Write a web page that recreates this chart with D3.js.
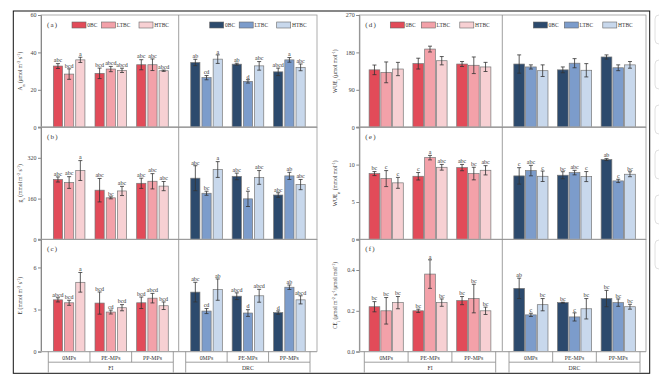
<!DOCTYPE html>
<html>
<head>
<meta charset="utf-8">
<script src="https://cdn.jsdelivr.net/npm/d3@7"></script>
<style>
  body { margin: 0; background: #fff; }
  svg { display: block; font-family: "Liberation Serif", "DejaVu Serif", serif; }
</style>
</head>
<body>
<div id="chart"></div>
<script>
const treatments = ["0MPs", "PE-MPs", "PP-MPs"];
const regimes = ["FI", "DRC"];
const series = ["0BC", "LTBC", "HTBC"];

// one row per group: FI 0MPs, FI PE-MPs, FI PP-MPs, DRC 0MPs, DRC PE-MPs, DRC PP-MPs
const anMean = [[32.7, 28.4, 36.0], [28.8, 31.1, 30.4], [33.4, 33.4, 30.2], [34.6, 26.5, 36.4], [33.7, 24.5, 32.8], [29.6, 36.0, 32.0]];
const anErr = [[1.3, 2.8, 1.4], [2.8, 1.4, 1.15], [2.7, 3.1, 0.35], [1.7, 1.15, 2.3], [0.5, 0.9, 2.3], [2.0, 1.25, 1.8]];
const anLetters = [["abc", "bcd", "a"], ["bcd", "abcd", "abcd"], ["abc", "abc", "abcd"], ["ab", "cd", "a"], ["ab", "d", "abc"], ["abcd", "a", "abc"]];

const gsMean = [[235, 223, 270], [193, 163, 190], [220, 228, 209], [240, 181, 274], [247, 159, 243], [174, 249, 215]];
const gsErr = [[10, 23, 39], [46, 4, 18], [20, 30, 18], [49, 8, 31], [13, 30, 27], [9, 14, 20]];
const gsLetters = [["abc", "abc", "a"], ["abc", "bc", "abc"], ["abc", "abc", "abc"], ["abc", "bc", "a"], ["abc", "c", "abc"], ["abc", "ab", "abc"]];

const eMean = [[3.69, 3.48, 4.94], [3.46, 2.82, 3.13], [3.48, 3.81, 3.27], [4.24, 2.89, 4.42], [3.95, 2.75, 3.98], [2.78, 4.59, 3.69]];
const eErr = [[0.15, 0.18, 0.7], [0.79, 0.14, 0.22], [0.41, 0.34, 0.27], [0.7, 0.18, 0.76], [0.24, 0.24, 0.46], [0.12, 0.16, 0.29]];
const eLetters = [["abcd", "bcd", "a"], ["bcd", "cd", "bcd"], ["bcd", "abcd", "bcd"], ["abc", "cd", "ab"], ["abcd", "d", "abcd"], ["d", "ab", "abcd"]];

const wueiMean = [[138, 132, 140], [153, 188, 160], [152, 149, 145], [152, 145, 136], [138, 154, 137], [169, 143, 150]];
const wueiErr = [[11.6, 25, 16], [13, 7, 10], [6, 20, 11], [22, 5, 14], [7, 11, 16], [5, 7, 8]];

const wuenMean = [[8.8, 8.13, 7.56], [8.44, 10.93, 9.64], [9.6, 8.8, 9.24], [8.49, 9.2, 8.44], [8.58, 8.93, 8.4], [10.67, 7.82, 8.71]];
const wuenErr = [[0.27, 1.07, 0.73], [0.5, 0.3, 0.38], [0.42, 0.84, 0.62], [1.1, 0.7, 0.7], [0.47, 0.3, 0.67], [0.13, 0.22, 0.33]];
const wuenLetters = [["bc", "c", "c"], ["c", "a", "abc"], ["abc", "bc", "abc"], ["c", "abc", "c"], ["bc", "abc", "c"], ["ab", "c", "bc"]];

const ceiMean = [[0.22, 0.20, 0.24], [0.20, 0.38, 0.24], [0.25, 0.26, 0.20], [0.31, 0.18, 0.23], [0.24, 0.17, 0.21], [0.26, 0.24, 0.22]];
const ceiErr = [[0.025, 0.065, 0.03], [0.008, 0.07, 0.018], [0.02, 0.07, 0.018], [0.05, 0.008, 0.03], [0.002, 0.02, 0.05], [0.04, 0.018, 0.012]];
const ceiLetters = [["bc", "bc", "bc"], ["bc", "a", "bc"], ["bc", "bc", "bc"], ["ab", "c", "bc"], ["bc", "c", "bc"], ["bc", "bc", "bc"]];

const redColors = ["#e24b59", "#f3a1a9", "#f7d0d3"];
const blueColors = ["#2c4a6d", "#7c9ccb", "#c8d8ec"];

const panels = {
    a: { tag: "(a)", label: "A_{n} (μmol m^{-2} s^{-1})", mean: anMean, err: anErr, letters: anLetters, max: 60, ticks: [0, 20, 40, 60], fmt: d3.format("d"), legend: true },
    b: { tag: "(b)", label: "g_{s} (mmol m^{-2} s^{-1})", mean: gsMean, err: gsErr, letters: gsLetters, max: 440, ticks: [0, 160, 320], fmt: d3.format("d") },
    c: { tag: "(c)", label: "E (mmol m^{-2} s^{-1})", mean: eMean, err: eErr, letters: eLetters, max: 8, ticks: [0, 3, 6], fmt: d3.format("d") },
    d: { tag: "(d)", label: "WUE_{i} (μmol mol^{-1})", mean: wueiMean, err: wueiErr, letters: null, max: 270, ticks: [0, 90, 180, 270], fmt: d3.format("d"), legend: true },
    e: { tag: "(e)", label: "WUE_{n} (mmol mol^{-1})", mean: wuenMean, err: wuenErr, letters: wuenLetters, max: 15, ticks: [0, 5, 10], fmt: d3.format("d") },
    f: { tag: "(f)", label: "CE_{i} (μmol m^{-2} s^{-1}/μmol mol^{-1})", mean: ceiMean, err: ceiErr, letters: ceiLetters, max: 0.55, ticks: [0, 0.2, 0.4], fmt: d3.format(".1f") }
};

const W = 659, H = 389;
const panelTop = 15, panelH = 112.2;

const charts = [
    { x0: 41, x1: 317, mid: 178.7, labelX: 21.7, pad: [7.3, 5.4, 7, 7], inner: 0.18, outer: 0.45, legendOff: [0, 29.5, 67], ids: ["a", "b", "c"] },
    { x0: 359.3, x1: 646, mid: 502.3, labelX: 337, pad: [5, 6.6, 6.7, 6], inner: 0.09, outer: 0.41, legendOff: [0, 31, 69.5], ids: ["d", "e", "f"] }
];

const svg = d3.select("#chart").append("svg").attr("width", W).attr("height", H);

function richText(sel, str) {
    str.split(/(_\{[^}]*\}|\^\{[^}]*\})/).forEach(p => {
        if (!p) return;
        if (p.startsWith("_{")) {
            sel.append("tspan").attr("baseline-shift", "sub").attr("font-size", "75%").text(p.slice(2, -1));
        } else if (p.startsWith("^{")) {
            sel.append("tspan").attr("baseline-shift", "super").attr("font-size", "75%").text(p.slice(2, -1));
        } else {
            sel.append("tspan").text(p);
        }
    });
}

// outer frame
svg.append("rect")
    .attr("x", 13.3).attr("y", 11)
    .attr("width", 636.4).attr("height", 362.3)
    .attr("fill", "none").attr("stroke", "#111").attr("stroke-width", 1);

// side widgets at right edge (screenshot artefacts)
d3.range(6).forEach(k => {
    svg.append("rect")
        .attr("x", 655).attr("y", 15 + k * 45)
        .attr("width", 20).attr("height", 29).attr("rx", 4)
        .attr("fill", "#fff").attr("stroke", "#d8d8d8").attr("stroke-width", 0.8);
});

charts.forEach(ch => {
    const g = svg.append("g");
    const halves = [
        [ch.x0 + ch.pad[0], ch.mid - ch.pad[1]],
        [ch.mid + ch.pad[2], ch.x1 - ch.pad[3]]
    ];
    const groupX = halves.map(r => d3.scaleBand().domain(treatments).range(r));
    const barX = d3.scaleBand().domain(series)
        .range([0, groupX[0].bandwidth()])
        .paddingInner(ch.inner).paddingOuter(ch.outer);

    ch.ids.forEach((id, pi) => {
        const p = panels[id];
        const top = panelTop + pi * panelH;
        const bottom = top + panelH;
        const y = d3.scaleLinear().domain([0, p.max]).range([bottom, top]);

        // frame
        g.append("rect")
            .attr("x", ch.x0).attr("y", top)
            .attr("width", ch.x1 - ch.x0).attr("height", panelH)
            .attr("fill", "none").attr("stroke", "#999").attr("stroke-width", 0.8);
        g.append("line")
            .attr("x1", ch.mid).attr("x2", ch.mid).attr("y1", top).attr("y2", bottom)
            .attr("stroke", "#888").attr("stroke-width", 0.8);

        // y axis
        const ax = g.append("g")
            .attr("transform", `translate(${ch.x0},0)`)
            .call(d3.axisLeft(y).tickValues(p.ticks).tickFormat(p.fmt).tickSize(3).tickPadding(1.5));
        ax.select(".domain").attr("stroke", "#888");
        ax.selectAll(".tick line").attr("stroke", "#888");
        ax.selectAll(".tick text").attr("fill", "#444").style("font-size", "6px").style("font-family", "Liberation Serif");

        // bars
        regimes.forEach((rg, ri) => {
            const colors = ri === 0 ? redColors : blueColors;
            treatments.forEach((tr, ti) => {
                const gi = ri * 3 + ti;
                series.forEach((s, si) => {
                    const v = p.mean[gi][si], e = p.err[gi][si];
                    const bx = groupX[ri](tr) + barX(s);
                    const cx = bx + barX.bandwidth() / 2;
                    g.append("rect")
                        .attr("x", bx).attr("y", y(v))
                        .attr("width", barX.bandwidth()).attr("height", y(0) - y(v))
                        .attr("fill", colors[si]).attr("stroke", "#777").attr("stroke-width", 0.7);
                    g.append("line")
                        .attr("x1", cx).attr("x2", cx).attr("y1", y(v - e)).attr("y2", y(v + e))
                        .attr("stroke", "#333").attr("stroke-width", 0.8);
                    [v - e, v + e].forEach(ev => {
                        g.append("line")
                            .attr("x1", cx - 2).attr("x2", cx + 2).attr("y1", y(ev)).attr("y2", y(ev))
                            .attr("stroke", "#333").attr("stroke-width", 0.8);
                    });
                    if (p.letters) {
                        g.append("text")
                            .attr("x", cx).attr("y", y(v + e) - 1.2)
                            .attr("text-anchor", "middle")
                            .style("font-size", "6px").attr("fill", "#333")
                            .text(p.letters[gi][si]);
                    }
                });
            });
        });

        // baseline
        g.append("line")
            .attr("x1", ch.x0 - 3).attr("x2", ch.x1).attr("y1", y(0)).attr("y2", y(0))
            .attr("stroke", "#a8a8a8").attr("stroke-width", 1.4);

        // tag
        g.append("text")
            .attr("x", ch.x0 + 6).attr("y", top + 12)
            .style("font-size", "7px").attr("fill", "#333")
            .attr("letter-spacing", "1.2px")
            .text(p.tag);

        // y label
        const lab = g.append("text")
            .attr("transform", `translate(${ch.labelX},${top + panelH / 2}) rotate(-90)`)
            .attr("text-anchor", "middle")
            .style("font-size", "5.5px").attr("fill", "#333");
        richText(lab, p.label);

        // legends
        if (p.legend) {
            [ch.x0, ch.mid].forEach((hx, ri) => {
                const colors = ri === 0 ? redColors : blueColors;
                series.forEach((s, si) => {
                    const lx = hx + 31 + ch.legendOff[si];
                    g.append("rect")
                        .attr("x", lx).attr("y", top + 7)
                        .attr("width", 14).attr("height", 6)
                        .attr("fill", colors[si]).attr("stroke", "#666").attr("stroke-width", 0.6);
                    g.append("text")
                        .attr("x", lx + 15.3).attr("y", top + 12)
                        .style("font-size", "5.5px").attr("fill", "#333")
                        .text(s);
                });
            });
        }
    });

    // categorical x axis
    const base = panelTop + 3 * panelH;
    const row1 = base + 10.6, row2 = base + 21;
    regimes.forEach((rg, ri) => {
        const gx = groupX[ri];
        const [r0, r1] = gx.range();
        treatments.forEach(tr => {
            g.append("line")
                .attr("x1", gx(tr)).attr("x2", gx(tr)).attr("y1", base).attr("y2", row1)
                .attr("stroke", "#888").attr("stroke-width", 0.8);
            g.append("text")
                .attr("x", gx(tr) + gx.bandwidth() / 2).attr("y", base + 8)
                .attr("text-anchor", "middle")
                .style("font-size", "5.8px").attr("fill", "#333")
                .text(tr);
        });
        g.append("line")
            .attr("x1", r1).attr("x2", r1).attr("y1", base).attr("y2", row1)
            .attr("stroke", "#888").attr("stroke-width", 0.8);
        g.append("line")
            .attr("x1", r0).attr("x2", r1).attr("y1", row1).attr("y2", row1)
            .attr("stroke", "#888").attr("stroke-width", 0.8);
        [r0, r1].forEach(xx => {
            g.append("line")
                .attr("x1", xx).attr("x2", xx).attr("y1", row1).attr("y2", row2)
                .attr("stroke", "#888").attr("stroke-width", 0.8);
        });
        g.append("text")
            .attr("x", (r0 + r1) / 2).attr("y", row1 + 7.5)
            .attr("text-anchor", "middle")
            .style("font-size", "5.8px").attr("fill", "#333")
            .text(rg);
    });
});
</script>
</body>
</html>
